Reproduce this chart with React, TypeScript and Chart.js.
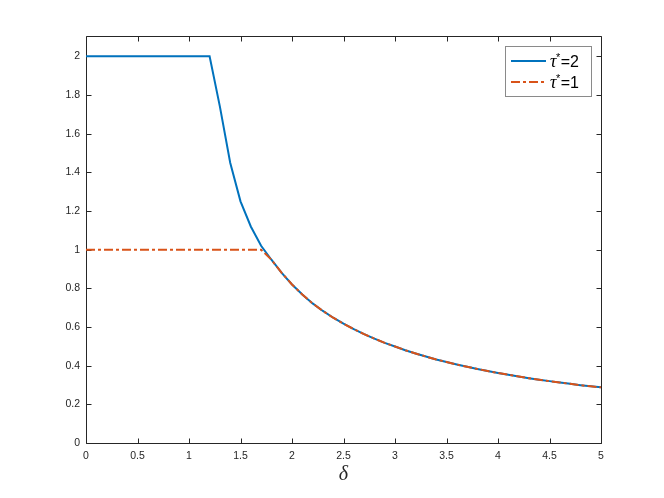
import React, { useEffect, useRef } from "react";
import { Chart, registerables } from "chart.js";

Chart.register(...registerables);

// delta values (x)
const deltas = [
  0, 0.1, 0.2, 0.3, 0.4, 0.5, 0.6, 0.7, 0.8, 0.9,
  1.0, 1.1, 1.2, 1.3, 1.4, 1.5, 1.6, 1.7, 1.8, 1.9,
  2.0, 2.1, 2.2, 2.3, 2.4, 2.5, 2.6, 2.7, 2.8, 2.9,
  3.0, 3.1, 3.2, 3.3, 3.4, 3.5, 3.6, 3.7, 3.8, 3.9,
  4.0, 4.1, 4.2, 4.3, 4.4, 4.5, 4.6, 4.7, 4.8, 4.9,
  5.0,
];

// tau* = 2
const tau2Values = [
  2, 2, 2, 2, 2, 2, 2, 2, 2, 2,
  2, 2, 2, 1.74, 1.45, 1.25, 1.12, 1.02, 0.948, 0.88,
  0.82, 0.768, 0.722, 0.683, 0.648, 0.617, 0.589, 0.563, 0.54, 0.518,
  0.499, 0.48, 0.463, 0.447, 0.432, 0.419, 0.406, 0.394, 0.383, 0.372,
  0.362, 0.353, 0.344, 0.335, 0.327, 0.32, 0.313, 0.306, 0.299, 0.293,
  0.288,
];

// tau* = 1
const tau1Values = [
  1, 1, 1, 1, 1, 1, 1, 1, 1, 1,
  1, 1, 1, 1, 1, 1, 1, 1, 0.948, 0.88,
  0.82, 0.768, 0.722, 0.683, 0.648, 0.617, 0.589, 0.563, 0.54, 0.518,
  0.499, 0.48, 0.463, 0.447, 0.432, 0.419, 0.406, 0.394, 0.383, 0.372,
  0.362, 0.353, 0.344, 0.335, 0.327, 0.32, 0.313, 0.306, 0.299, 0.293,
  0.288,
];

const xTicks = [0, 0.5, 1, 1.5, 2, 2.5, 3, 3.5, 4, 4.5, 5];
const xTickLabels = ["0", "0.5", "1", "1.5", "2", "2.5", "3", "3.5", "4", "4.5", "5"];
const yTicks = [0, 0.2, 0.4, 0.6, 0.8, 1, 1.2, 1.4, 1.6, 1.8, 2];
const yTickLabels = ["0", "0.2", "0.4", "0.6", "0.8", "1", "1.2", "1.4", "1.6", "1.8", "2"];

const xTitle = "δ";
const legendSymbol = "τ";
const legendSup = "*";
const legendValues = ["=2", "=1"];

const BLUE = "#0072BD";
const ORANGE = "#D95319";
const AXIS = "#262626";

const boxTicksPlugin = {
  id: "boxTicks",
  beforeDatasetsDraw(chart: any) {
    const { ctx, chartArea } = chart;
    const { left, right, top, bottom } = chartArea;
    const xs = chart.scales.x;
    const ys = chart.scales.y;
    ctx.save();
    ctx.strokeStyle = AXIS;
    ctx.lineWidth = 1;
    ctx.beginPath();
    const L = Math.round(left) + 0.5;
    const R = Math.round(right) + 0.5;
    const T = Math.round(top) - 0.5;
    const B = Math.round(bottom) + 0.5;
    ctx.moveTo(L, T);
    ctx.lineTo(R, T);
    ctx.lineTo(R, B);
    ctx.lineTo(L, B);
    ctx.closePath();
    const tl = 5;
    xTicks.forEach((v) => {
      const px = Math.round(xs.getPixelForValue(v)) + 0.5;
      ctx.moveTo(px, B);
      ctx.lineTo(px, B - tl);
      ctx.moveTo(px, T);
      ctx.lineTo(px, T + tl);
    });
    yTicks.forEach((v) => {
      const py = Math.round(ys.getPixelForValue(v)) + 0.5;
      ctx.moveTo(L, py);
      ctx.lineTo(L + tl, py);
      ctx.moveTo(R, py);
      ctx.lineTo(R - tl, py);
    });
    ctx.stroke();
    ctx.restore();
  },
};

const legendPlugin = {
  id: "customLegend",
  afterDraw(chart: any) {
    const { ctx } = chart;
    const bx = 505.5;
    const by = 46.5;
    const bw = 86;
    const bh = 50;
    ctx.save();
    ctx.fillStyle = "#ffffff";
    ctx.fillRect(bx, by, bw, bh);
    ctx.strokeStyle = "#8a8a8a";
    ctx.lineWidth = 1;
    ctx.strokeRect(bx, by, bw, bh);
    const datasets = chart.data.datasets;
    datasets.forEach((ds: any, i: number) => {
      const cy = 61 + i * 21;
      ctx.beginPath();
      ctx.strokeStyle = ds.borderColor;
      ctx.lineWidth = ds.borderWidth;
      ctx.setLineDash(ds.borderDash || []);
      ctx.moveTo(511, cy);
      ctx.lineTo(546, cy);
      ctx.stroke();
      ctx.setLineDash([]);
      const baseline = cy + 5.5;
      ctx.fillStyle = "#000000";
      ctx.textBaseline = "alphabetic";
      ctx.textAlign = "left";
      let tx = 550;
      ctx.font = 'italic 18px "Liberation Serif"';
      ctx.fillText(legendSymbol, tx, baseline);
      tx += ctx.measureText(legendSymbol).width;
      ctx.font = '11px "Liberation Sans"';
      ctx.fillText(legendSup, tx - 0.5, baseline - 6);
      tx += ctx.measureText(legendSup).width;
      ctx.font = '16px "Liberation Sans"';
      ctx.fillText(legendValues[i], tx, baseline);
    });
    ctx.restore();
  },
};

export default function App() {
  const canvasRef = useRef<HTMLCanvasElement | null>(null);

  useEffect(() => {
    const canvas = canvasRef.current;
    if (!canvas) return;
    const chart = new Chart(canvas, {
      type: "line",
      data: {
        datasets: [
          {
            label: legendSymbol + legendSup + legendValues[0],
            data: deltas.map((d, i) => ({ x: d, y: tau2Values[i] })),
            borderColor: BLUE,
            backgroundColor: BLUE,
            borderWidth: 2,
            pointRadius: 0,
            fill: false,
            tension: 0,
            order: 1,
          },
          {
            label: legendSymbol + legendSup + legendValues[1],
            data: deltas.map((d, i) => ({ x: d, y: tau1Values[i] })),
            borderColor: ORANGE,
            backgroundColor: ORANGE,
            borderWidth: 2,
            borderDash: [9, 3, 3, 3],
            pointRadius: 0,
            fill: false,
            tension: 0,
            order: 0,
          },
        ],
      },
      options: {
        animation: false,
        responsive: false,
        maintainAspectRatio: false,
        layout: { padding: { left: 0, top: 37, right: 63, bottom: 0 } },
        plugins: {
          legend: { display: false },
          tooltip: { enabled: false },
        },
        scales: {
          x: {
            type: "linear",
            min: 0,
            max: 5,
            afterBuildTicks: (scale: any) => {
              scale.ticks = xTicks.map((v) => ({ value: v }));
            },
            afterFit: (scale: any) => {
              scale.height = 55;
            },
            grid: { display: false, drawTicks: false },
            border: { display: false },
            ticks: {
              autoSkip: false,
              maxRotation: 0,
              padding: 7,
              color: AXIS,
              font: { family: '"Liberation Sans"', size: 10.5 },
              callback: (_v: any, i: number) => xTickLabels[i],
            },
            title: {
              display: true,
              text: xTitle,
              color: AXIS,
              font: { family: '"Liberation Serif"', size: 20, style: "italic", lineHeight: 1.2 },
              padding: { top: 0, bottom: 11 },
            },
          },
          y: {
            type: "linear",
            min: 0,
            max: 2.1,
            afterBuildTicks: (scale: any) => {
              scale.ticks = yTicks.map((v) => ({ value: v }));
            },
            afterFit: (scale: any) => {
              scale.width = 86;
            },
            grid: { display: false, drawTicks: false },
            border: { display: false },
            ticks: {
              autoSkip: false,
              padding: 6,
              color: AXIS,
              font: { family: '"Liberation Sans"', size: 10.5 },
              callback: (_v: any, i: number) => yTickLabels[i],
            },
          },
        },
      },
      plugins: [boxTicksPlugin, legendPlugin],
    });
    return () => chart.destroy();
  }, []);

  return (
    <div style={{ position: "absolute", left: 0, top: 0, width: 664, height: 498, background: "#ffffff" }}>
      <canvas ref={canvasRef} width={664} height={498} />
    </div>
  );
}
